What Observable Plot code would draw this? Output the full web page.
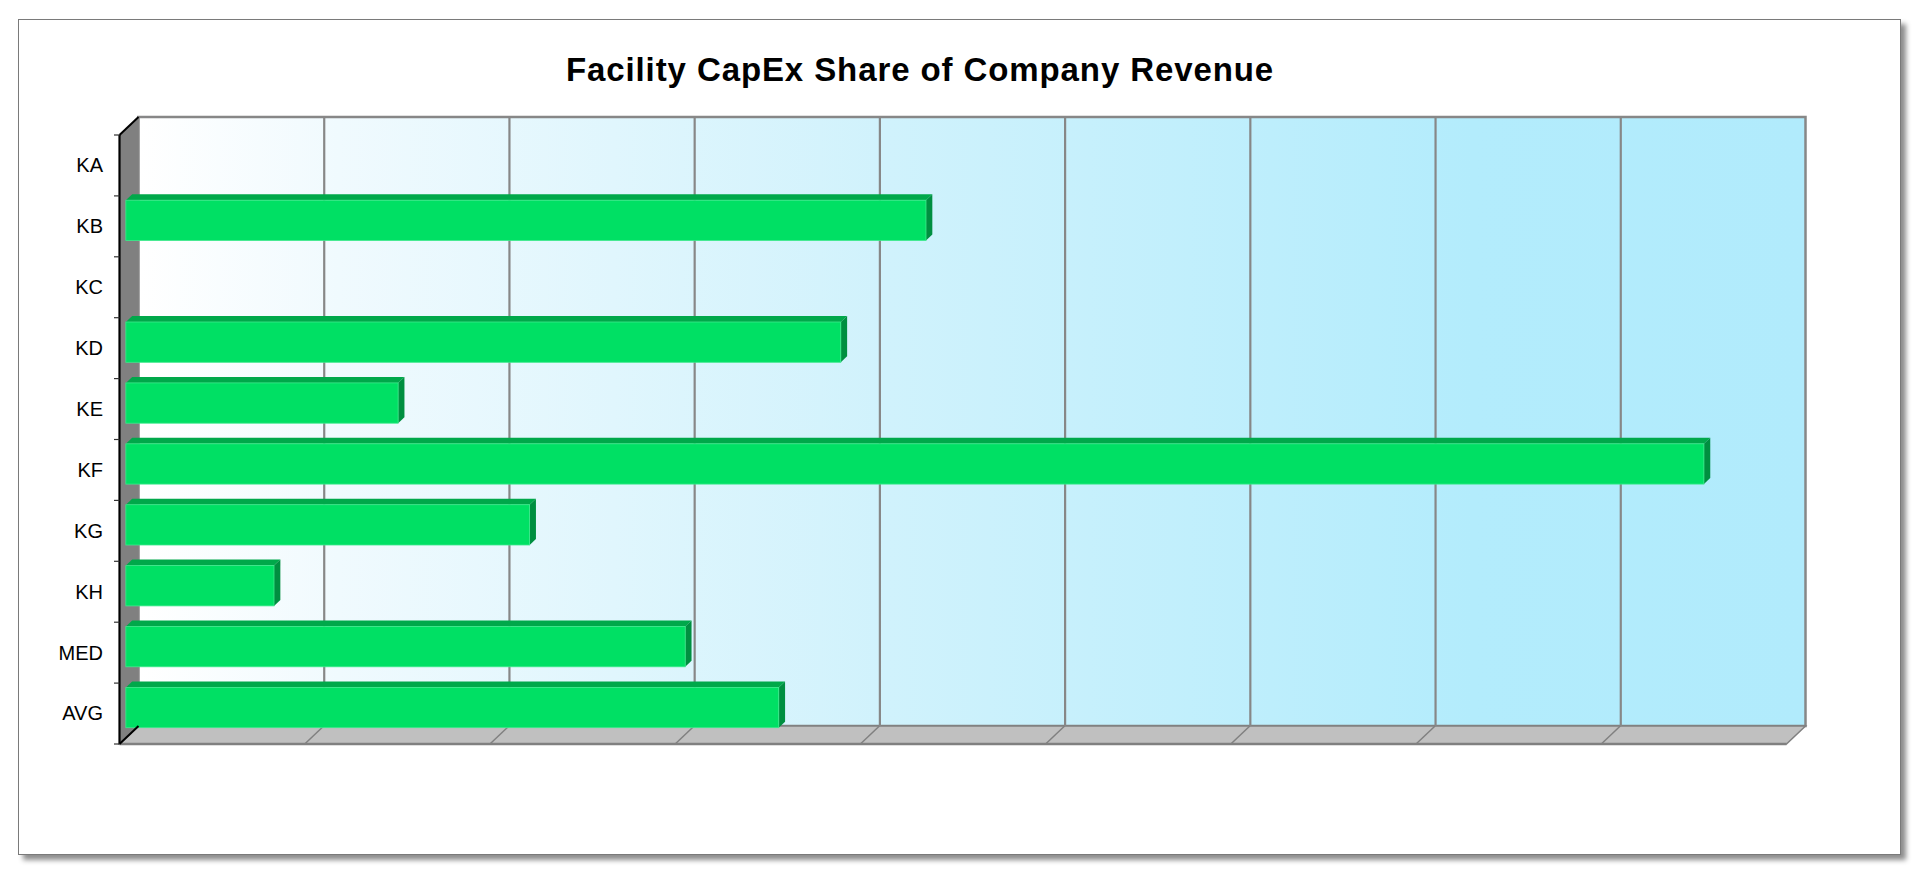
<!DOCTYPE html>
<html><head><meta charset="utf-8">
<script src="https://cdn.jsdelivr.net/npm/d3@7"></script>
<script src="https://cdn.jsdelivr.net/npm/@observablehq/plot@0.6"></script>
<style>
html,body{margin:0;padding:0;background:#fff;width:1920px;height:874px;overflow:hidden;font-family:"Liberation Sans",Arial,sans-serif;}
#frame{position:absolute;left:18px;top:19px;width:1881px;height:834px;border:1.5px solid #7a7a7a;box-shadow:5px 5px 5px rgba(0,0,0,0.45);background:#fff;}
#title{position:absolute;left:0;top:52.5px;width:1840px;text-align:center;font:bold 33px "Liberation Sans",Arial,sans-serif;line-height:33px;letter-spacing:0.9px;color:#000;}
#chart{position:absolute;left:0;top:100px;}
</style></head><body>
<div id="frame"></div>
<div id="title">Facility CapEx Share of Company Revenue</div>
<div id="chart"></div>
<script>
// ---- data ----
const categories = ["KA", "KB", "KC", "KD", "KE", "KF", "KG", "KH", "MED", "AVG"];
const values     = [null, 4.32, null, 3.86, 1.47, 8.52, 2.18, 0.80, 3.02, 3.525];
const gridTicks  = [0, 1, 2, 3, 4, 5, 6, 7, 8, 9];

const data = categories
  .map((category, i) => ({category, value: values[i]}))
  .filter(d => d.value != null);

// ---- style constants (3D look) ----
const WALL = [19, -18];        // depth offset of the back wall
const BF = [6.33, -6];         // bar front plane offset
const BB = [12.67, -12];       // bar back plane offset
const INSET = 10.3;
const C = {
  wallLine: "#878787", side: "#808080", floor: "#c0c0c0", floorLine: "#808080",
  front: "#00e064", top: "#00a84a", right: "#008f40", frontEdge: "#3ee98c"
};

const pts = a => a.map(p => p.join(",")).join(" ");
const bwOf = (s, scales) => typeof s.bandwidth === "function" ? s.bandwidth() : scales.scales.y.bandwidth;

function walls(index, scales, values, dim) {
  const {x} = scales;
  const y0 = dim.marginTop, y1 = dim.height - dim.marginBottom;
  const xa = x(gridTicks[0]), xb = x(gridTicks[gridTicks.length - 1]);
  const [wx, wy] = WALL;
  const g = d3.create("svg:g");
  const grad = g.append("defs").append("linearGradient").attr("id", "wallGrad")
    .attr("x1", 0).attr("x2", 1).attr("y1", 0).attr("y2", 0);
  grad.append("stop").attr("offset", 0).attr("stop-color", "#ffffff");
  grad.append("stop").attr("offset", 0.12).attr("stop-color", "#f0fafe");
  grad.append("stop").attr("offset", 0.45).attr("stop-color", "#d0f2fc");
  grad.append("stop").attr("offset", 0.8).attr("stop-color", "#b3ecfc");
  grad.append("stop").attr("offset", 1).attr("stop-color", "#b1ebfc");
  // back wall
  g.append("rect").attr("x", xa + wx).attr("y", y0 + wy).attr("width", xb - xa).attr("height", y1 - y0)
    .attr("fill", "url(#wallGrad)").attr("stroke", C.wallLine).attr("stroke-width", 2.5);
  // side wall
  g.append("polygon").attr("points", pts([[xa, y0], [xa + wx, y0 + wy], [xa + wx, y1 + wy], [xa, y1]]))
    .attr("fill", C.side);
  // floor
  g.append("polygon").attr("points", pts([[xa, y1], [xa + wx, y1 + wy], [xb + wx, y1 + wy], [xb, y1]]))
    .attr("fill", C.floor).attr("stroke", C.floorLine).attr("stroke-width", 1.5);
  // floor diagonals
  for (const t of gridTicks.slice(1, -1)) {
    g.append("line").attr("x1", x(t)).attr("y1", y1).attr("x2", x(t) + wx).attr("y2", y1 + wy)
      .attr("stroke", C.floorLine).attr("stroke-width", 1.5);
  }
  g.append("line").attr("x1", xa).attr("y1", y1).attr("x2", xb).attr("y2", y1)
    .attr("stroke", C.floorLine).attr("stroke-width", 2.5);
  return g.node();
}

function barSides(index, scales) {
  const {x, y} = scales;
  const bw = bwOf(y, scales);
  const g = d3.create("svg:g");
  for (const d of data) {
    const yt = y(d.category) + INSET, yb = y(d.category) + bw - INSET;
    const xs = x(0), xe = x(d.value);
    g.append("polygon").attr("points", pts([
      [xs + BF[0], yt + BF[1]], [xe + BF[0], yt + BF[1]], [xe + BB[0], yt + BB[1]], [xs + BB[0], yt + BB[1]]
    ])).attr("fill", C.top);
    g.append("polygon").attr("points", pts([
      [xe + BF[0], yt + BF[1]], [xe + BB[0], yt + BB[1]], [xe + BB[0], yb + BB[1]], [xe + BF[0], yb + BF[1]]
    ])).attr("fill", C.right);
  }
  return g.node();
}

function axisLines(index, scales, values, dim) {
  const {x, y} = scales;
  const bw = bwOf(y, scales);
  const y0 = dim.marginTop, y1 = dim.height - dim.marginBottom;
  const xa = x(gridTicks[0]);
  const [wx, wy] = WALL;
  const g = d3.create("svg:g").attr("stroke", "#000");
  g.append("line").attr("x1", xa).attr("y1", y0).attr("x2", xa).attr("y2", y1).attr("stroke-width", 2.2);
  g.append("line").attr("x1", xa).attr("y1", y0).attr("x2", xa + wx).attr("y2", y0 + wy).attr("stroke-width", 2);
  g.append("line").attr("x1", xa).attr("y1", y1).attr("x2", xa + wx).attr("y2", y1 + wy).attr("stroke-width", 2);
  const bounds = categories.map(c => y(c)).concat([y(categories[categories.length - 1]) + bw]);
  for (const b of bounds) {
    g.append("line").attr("x1", xa - 5.5).attr("x2", xa).attr("y1", b).attr("y2", b)
      .attr("stroke-width", 1.2).attr("stroke", "#333");
  }
  return g.node();
}

const chart = Plot.plot({
  width: 1920,
  height: 700,
  marginLeft: 119.5,
  marginRight: 133.5,
  marginTop: 35,
  marginBottom: 56,
  style: {background: "transparent", overflow: "visible", fontFamily: "'Liberation Sans', Arial, sans-serif"},
  x: {domain: [gridTicks[0], gridTicks[gridTicks.length - 1]], axis: null, round: false},
  y: {domain: categories, padding: 0, round: false, axis: null},
  marks: [
    walls,
    Plot.ruleX(gridTicks.slice(1, -1), {x: d => d, dx: WALL[0], dy: WALL[1], stroke: C.wallLine, strokeWidth: 2.2}),
    barSides,
    Plot.barX(data, {
      x: "value", y: "category", dx: BF[0], dy: BF[1],
      insetTop: INSET, insetBottom: INSET,
      fill: C.front, stroke: C.frontEdge, strokeWidth: 0.8
    }),
    axisLines,
    Plot.axisY({tickSize: 0, tickPadding: 17, fontSize: 20, fill: "#000", label: null})
  ]
});
document.getElementById("chart").append(chart);
</script>
</body></html>
